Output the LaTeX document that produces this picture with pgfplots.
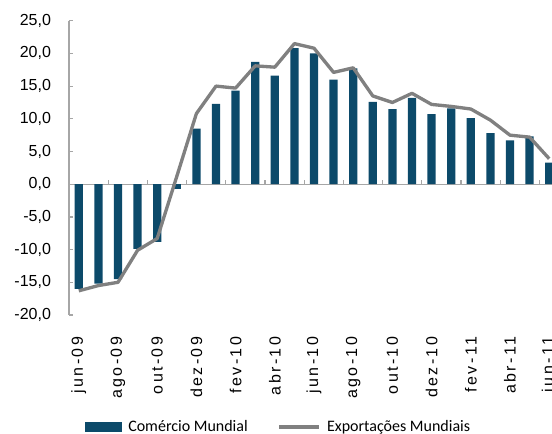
\documentclass[border=0pt]{standalone}
\usepackage{fontspec}
\setmainfont{Liberation Sans}
\newfontfamily\legfont{Carlito}
\usepackage{pgfplots}
\pgfplotsset{compat=1.18}
\definecolor{barcol}{HTML}{0C4A6A}
\definecolor{linecol}{HTML}{808080}
\definecolor{axcol}{HTML}{A6A6A6}

\begin{document}
\begin{tikzpicture}[trim left=0pt, trim right=414pt]
\path (0,0) rectangle (414pt,325.5pt);
\begin{axis}[
  at={(51.75pt,89.25pt)}, anchor=south west,
  scale only axis, width=367.5pt, height=220.7pt,
  xmin=-0.5, xmax=24.5, ymin=-20, ymax=25,
  enlargelimits=false,
  axis x line=middle, axis y line=left,
  axis line style={-, draw=axcol, line width=0.9pt},
  hide obscured x ticks=false, hide obscured y ticks=false,
  tick align=inside, major tick length=3pt,
  tick style={draw=axcol, line width=0.9pt},
  /pgf/number format/assume math mode=true,
  ytick={-20,-15,...,25},
  yticklabel style={/pgf/number format/.cd, fixed, fixed zerofill, precision=1, use comma},
  yticklabel shift=10pt,
  ticklabel style={font=\fontsize{12}{14}\selectfont},
  xtick={1.5,3.5,...,23.5}, xticklabels={},
  extra x ticks={0,2,...,24},
  extra x tick labels={jun-09,ago-09,out-09,dez-09,fev-10,abr-10,jun-10,ago-10,out-10,dez-10,fev-11,abr-11,jun-11},
  extra x tick style={major tick length=0pt},
  xticklabel style={rotate=90, anchor=east, font=\fontsize{12}{14}\selectfont\addfontfeatures{LetterSpace=15}},
  xticklabel shift=111pt,
  legend columns=2,
  legend style={at={(0.0327,-0.3806)}, anchor=west, draw=none, inner sep=0pt,
    font=\legfont\fontsize{12}{14}\selectfont,
    nodes={inner xsep=4.5pt, inner ysep=0pt},
    /tikz/every even column/.append style={column sep=18pt}},
]
\addplot[ybar, bar width=0.42, fill=barcol, draw=none,
  legend image code/.code={\fill[barcol] (0pt,-3.75pt) rectangle (27.75pt,3.75pt);}]
  coordinates {
  (0,-16.0) (1,-15.2) (2,-14.5) (3,-9.9) (4,-8.8) (5,-0.7) (6,8.5) (7,12.3)
  (8,14.3) (9,18.7) (10,16.6) (11,20.8) (12,20.0) (13,16.0) (14,17.7)
  (15,12.6) (16,11.5) (17,13.2) (18,10.7) (19,11.6) (20,10.1) (21,7.8)
  (22,6.7) (23,7.3) (24,3.3)};
\addlegendentry{Comércio Mundial}
\addplot[sharp plot, linecol, line width=2.5pt, line join=round, mark=none,
  legend image code/.code={\draw[linecol, line width=2.5pt] (0pt,0pt) -- (30pt,0pt);}]
  coordinates {
  (0,-16.3) (1,-15.5) (2,-15.0) (3,-10.1) (4,-8.3) (5,1.2) (6,10.8) (7,15.0)
  (8,14.7) (9,18.1) (10,17.9) (11,21.5) (12,20.8) (13,17.1) (14,17.8)
  (15,13.5) (16,12.5) (17,13.9) (18,12.2) (19,11.9) (20,11.5) (21,9.8)
  (22,7.5) (23,7.2) (24,3.9)};
\addlegendentry{Exportações Mundiais}
\end{axis}
\end{tikzpicture}
\end{document}
